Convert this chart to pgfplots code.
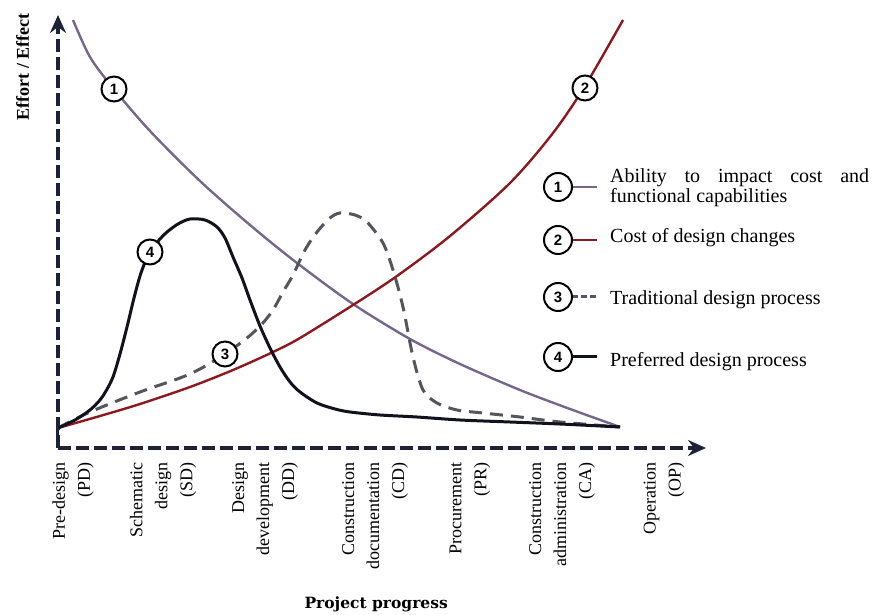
\documentclass[border=0pt]{standalone}
\usepackage{pgfplots}
\pgfplotsset{compat=1.18}
\usepackage{fontspec}
\setmainfont{Liberation Serif}
\newfontfamily\dejaserif{DejaVu Serif}
\newfontfamily\numfont{Liberation Sans}
\usetikzlibrary{arrows.meta}
\definecolor{axnavy}{RGB}{28,34,56}
\definecolor{cpurple}{RGB}{118,102,140}
\definecolor{cred}{RGB}{140,25,30}
\definecolor{cgray}{RGB}{85,85,95}
\definecolor{cblack}{RGB}{18,18,30}
\tikzset{
  numc/.style={circle, draw=black, line width=2pt, fill=white, minimum size=25pt, inner sep=0pt,
    font=\numfont\bfseries\fontsize{15}{15}\selectfont},
  legc/.style={numc, minimum size=28pt},
}
\begin{document}
\begin{tikzpicture}
\begin{axis}[
  scale only axis, width=648pt, height=433pt,
  xmin=58, xmax=706, ymin=0, ymax=433,
  axis lines=left, clip=false,
  axis line style={axnavy, line width=4pt, dash pattern=on 13pt off 5pt,
    -{Stealth[length=18pt,width=16pt,inset=6pt]}},
  xtick={73,163,265,375,470,562,664},
  xticklabels={{Pre-design\\(PD)},{Schematic\\design\\(SD)},{Design\\development\\(DD)},{Construction\\documentation\\(CD)},{Procurement\\(PR)},{Construction\\administration\\(CA)},{Operation\\(OP)}},
  ytick=\empty, major tick length=0pt,
  xticklabel style={rotate=90, anchor=east, align=right, inner sep=0pt,
    font=\fontsize{18}{25}\selectfont},
  xticklabel shift=14pt,
  xlabel={Project progress},
  xlabel style={at={(axis description cs:0.491,-0.360)}, anchor=center,
    font=\dejaserif\bfseries\fontsize{15.5}{16}\selectfont},
  ylabel={Effort / Effect},
  ylabel style={at={(axis description cs:-0.0545,0.88)}, anchor=center,
    font=\bfseries\fontsize{18}{18}\selectfont},
]
% 1: ability to impact cost
\addplot[cpurple, line width=2.4pt, smooth, tension=0.5] coordinates {
(73,428) (90,391) (113,360) (150,317) (200,267) (250,223) (297,185)
(353,144) (410,109) (460,84) (520,58) (570,39) (620,21)};
% 2: cost of design changes
\addplot[cred, line width=2.4pt, smooth, tension=0.5] coordinates {
(58,20) (100,32) (140,44) (190,61) (233,78) (273,96) (300,110) (353,143)
(397,172) (450,212) (510,265) (553,315) (585,362) (623,428)};
% 3: traditional design process
\addplot[cgray, line width=3pt, dash pattern=on 13pt off 8pt, smooth, tension=0.5] coordinates {
(58,20) (90,36) (140,56) (180,70) (200,79) (225,94) (247,110) (262,124) (273,138)
(283,156) (293,173) (305,198) (317,216) (330,230) (340,235) (355,233) (367,226)
(383,205) (393,178) (403,141) (413,91) (423,58) (437,45) (457,38) (483,35)
(520,31) (560,26) (620,21)};
% 4: preferred design process
\addplot[cblack, line width=3pt, smooth, tension=0.5] coordinates {
(58,20) (75,28) (90,38) (100,48) (106,57) (113,71) (120,94) (127,121) (134,150)
(140,172) (146,188) (153,200) (160,209) (167,216) (178,224) (190,229) (205,228)
(217,221) (225,210) (233,191) (242,170) (250,148) (260,122) (270,100) (280,81)
(290,66) (300,56) (317,45) (335,39) (350,36) (380,33) (417,31) (460,28) (510,26)
(560,24) (620,21)};
% solid base of y axis
\draw[axnavy, line width=3pt] (axis cs:58,0) -- (axis cs:58,20);
% curve labels
\node[numc] at (axis cs:114,359) {1};
\node[numc] at (axis cs:585,360) {2};
\node[numc] at (axis cs:225,94) {3};
\node[numc] at (axis cs:150,196) {4};
% legend
\draw[cpurple, line width=2.4pt] (axis cs:570,261) -- (axis cs:597,261);
\draw[cred, line width=2.4pt] (axis cs:570,208) -- (axis cs:597,208);
\draw[cgray, line width=3pt, dash pattern=on 6pt off 3pt] (axis cs:572,151) -- (axis cs:597,151);
\draw[cblack, line width=3pt] (axis cs:570,91) -- (axis cs:597,91);
\node[legc] at (axis cs:558,261) {1};
\node[legc] at (axis cs:558,208) {2};
\node[legc] at (axis cs:558,151) {3};
\node[legc] at (axis cs:558,91) {4};
\node[anchor=west, align=left, inner sep=0pt, font=\fontsize{20}{20}\selectfont] at (axis cs:610,260)
  {\makebox[259pt][s]{Ability to impact cost and}\\functional capabilities};
\node[anchor=west, inner sep=0pt, font=\fontsize{20}{20}\selectfont] at (axis cs:610,210) {Cost of design changes};
\node[anchor=west, inner sep=0pt, font=\fontsize{20}{20}\selectfont] at (axis cs:610,148) {Traditional design process};
\node[anchor=west, inner sep=0pt, font=\fontsize{20}{20}\selectfont] at (axis cs:610,86) {Preferred design process};
\coordinate (bbl) at (axis cs:0,-167);
\coordinate (btr) at (axis cs:873,448);
\end{axis}
\pgfresetboundingbox
\path (bbl) rectangle (btr);
\end{tikzpicture}
\end{document}
